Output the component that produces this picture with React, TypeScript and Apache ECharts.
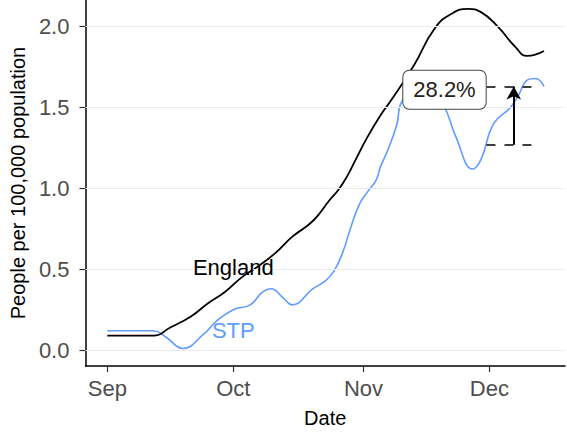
import React, { useEffect, useRef } from "react";
import * as echarts from "echarts";

const englandDates = [
  "2020-09-01", "2020-09-12", "2020-09-16", "2020-09-21", "2020-09-25", "2020-09-29",
  "2020-10-03", "2020-10-07", "2020-10-11", "2020-10-15", "2020-10-20", "2020-10-24",
  "2020-10-26", "2020-10-28", "2020-10-30", "2020-11-02", "2020-11-05", "2020-11-08",
  "2020-11-13", "2020-11-18", "2020-11-22", "2020-11-26", "2020-11-29", "2020-12-03",
  "2020-12-07", "2020-12-10", "2020-12-14",
];
const englandValues = [
  0.09, 0.09, 0.14, 0.21, 0.29, 0.36,
  0.45, 0.52, 0.6, 0.7, 0.8, 0.93,
  0.99, 1.07, 1.17, 1.32, 1.45, 1.56,
  1.76, 1.99, 2.08, 2.11, 2.09, 2.0,
  1.88, 1.82, 1.85,
];

const stpDates = [
  "2020-09-01", "2020-09-12", "2020-09-15", "2020-09-19", "2020-09-24", "2020-09-27",
  "2020-10-01", "2020-10-05", "2020-10-08", "2020-10-10", "2020-10-13", "2020-10-15",
  "2020-10-20", "2020-10-23", "2020-10-25", "2020-10-27", "2020-10-29", "2020-10-31",
  "2020-11-02", "2020-11-04", "2020-11-05", "2020-11-07", "2020-11-09", "2020-11-10",
  "2020-11-14", "2020-11-17", "2020-11-20", "2020-11-23", "2020-11-27", "2020-11-29",
  "2020-12-02", "2020-12-06", "2020-12-08", "2020-12-10", "2020-12-12", "2020-12-14",
];
const stpValues = [
  0.12, 0.12, 0.08, 0.01, 0.1, 0.18,
  0.25, 0.28, 0.36, 0.38, 0.32, 0.28,
  0.38, 0.43, 0.49, 0.6, 0.76, 0.9,
  0.98, 1.05, 1.13, 1.25, 1.4, 1.53,
  1.63, 1.6, 1.52, 1.32, 1.12, 1.18,
  1.4, 1.5, 1.58, 1.67, 1.68, 1.63,
];

const monthTickDates = ["2020-09-01", "2020-10-01", "2020-11-01", "2020-12-01"];
const monthTickLabels = ["Sep", "Oct", "Nov", "Dec"];
const yTicks = [0, 0.5, 1.0, 1.5, 2.0];

const baselineValue = 1.27;
const currentValue = 1.63;
const annotationText = "28.2%";

const ORIGIN = Date.UTC(2020, 8, 1);
const toDay = (d: string) => {
  const [y, m, dd] = d.split("-").map(Number);
  return (Date.UTC(y, m - 1, dd) - ORIGIN) / 86400000;
};

const FONT = "Liberation Sans, Arial, sans-serif";

export default function App() {
  const ref = useRef<HTMLDivElement>(null);
  useEffect(() => {
    if (!ref.current) return;
    const chart = echarts.init(ref.current, null, { renderer: "svg" });
    const tickDays = monthTickDates.map(toDay);
    const arrowDay = toDay("2020-12-07") - 0.2;
    const dashStart = toDay("2020-11-30") + 0.3;
    const dashEnd = toDay("2020-12-12") + 0.5;
    const boxDay = toDay("2020-11-20") + 0.3;

    chart.setOption({
      animation: false,
      textStyle: { fontFamily: FONT },
      grid: { left: 83, right: 2, top: 0, bottom: 61, containLabel: false },
      xAxis: {
        type: "value",
        min: -5.2,
        max: 109,
        name: "Date",
        nameLocation: "middle",
        nameGap: 42,
        nameTextStyle: { color: "#000", fontSize: 20, fontFamily: FONT },
        axisLine: { show: true, onZero: false, lineStyle: { color: "#000", width: 1.5 } },
        axisTick: { show: true, length: 6, customValues: tickDays, lineStyle: { color: "#333", width: 1.2 } },
        axisLabel: {
          customValues: tickDays,
          color: "#4d4d4d",
          fontSize: 22,
          margin: 11,
          fontFamily: FONT,
          formatter: (v: number) => {
            const i = tickDays.findIndex((t) => Math.abs(t - v) < 0.01);
            return i >= 0 ? monthTickLabels[i] : "";
          },
        },
        splitLine: { show: false },
      },
      yAxis: {
        type: "value",
        min: -0.098,
        max: 2.165,
        name: "People per 100,000 population",
        nameLocation: "middle",
        nameGap: 55,
        nameTextStyle: { color: "#000", fontSize: 20, fontFamily: FONT },
        axisLine: { show: true, onZero: false, lineStyle: { color: "#000", width: 1.5 } },
        axisTick: { show: true, length: 6, customValues: yTicks, lineStyle: { color: "#333", width: 1.2 } },
        axisLabel: {
          customValues: yTicks,
          color: "#4d4d4d",
          fontSize: 22,
          margin: 16,
          fontFamily: FONT,
          formatter: (v: number) => v.toFixed(1),
        },
        splitLine: { show: false },
      },
      series: [
        {
          type: "line",
          name: "grid",
          data: [],
          silent: true,
          z: 0,
          markLine: {
            silent: true,
            symbol: ["none", "none"],
            label: { show: false },
            lineStyle: { color: "#ebebeb", type: "solid", width: 1.2 },
            data: yTicks.map((v) => ({ yAxis: v })),
          },
        },
        {
          type: "line",
          name: "STP",
          data: stpDates.map((d, i) => [toDay(d), stpValues[i]]),
          showSymbol: false,
          smooth: 0.45,
          lineStyle: { color: "#619CFF", width: 1.6 },
          z: 2,
          markPoint: {
            silent: true,
            symbol: "rect",
            symbolSize: 0,
            data: [
              {
                coord: [30, 0.12],
                label: {
                  show: true,
                  position: "inside",
                  formatter: "STP",
                  color: "#619CFF",
                  fontSize: 22,
                  fontFamily: FONT,
                },
              },
            ],
          },
        },
        {
          type: "line",
          name: "England",
          data: englandDates.map((d, i) => [toDay(d), englandValues[i]]),
          showSymbol: false,
          smooth: 0.5,
          lineStyle: { color: "#000", width: 1.8 },
          z: 3,
          markPoint: {
            silent: true,
            symbol: "rect",
            symbolSize: 0,
            data: [
              {
                coord: [30, 0.51],
                label: {
                  show: true,
                  position: "inside",
                  formatter: "England",
                  color: "#000",
                  fontSize: 22,
                  fontFamily: FONT,
                },
              },
            ],
          },
        },
        {
          type: "line",
          name: "annotation",
          data: [],
          z: 5,
          markLine: {
            silent: true,
            label: { show: false },
            data: [
              [
                { coord: [dashStart, currentValue], symbol: "none", lineStyle: { color: "#000", type: [9, 9], width: 1.6 } },
                { coord: [dashEnd, currentValue], symbol: "none" },
              ],
              [
                { coord: [dashStart, baselineValue], symbol: "none", lineStyle: { color: "#000", type: [9, 9], width: 1.6 } },
                { coord: [dashEnd, baselineValue], symbol: "none" },
              ],
              [
                { coord: [arrowDay, baselineValue], symbol: "none", lineStyle: { color: "#000", type: "solid", width: 2 } },
                { coord: [arrowDay, currentValue], symbol: "arrow", symbolSize: [11, 13] },
              ],
            ],
          },
          markPoint: {
            silent: true,
            symbol: "rect",
            symbolSize: 0,
            data: [
              {
                coord: [boxDay, 1.61],
                label: {
                  show: true,
                  position: "inside",
                  formatter: annotationText,
                  color: "#222",
                  fontSize: 22,
                  fontFamily: FONT,
                  backgroundColor: "#fff",
                  borderColor: "#444",
                  borderWidth: 1,
                  borderRadius: 6,
                  padding: [9, 10, 7, 10],
                },
              },
            ],
          },
        },
      ],
    });
    return () => chart.dispose();
  }, []);
  return (
    <div
      ref={ref}
      style={{ position: "fixed", left: 0, top: 0, width: 567, height: 433, background: "#fff" }}
    />
  );
}
